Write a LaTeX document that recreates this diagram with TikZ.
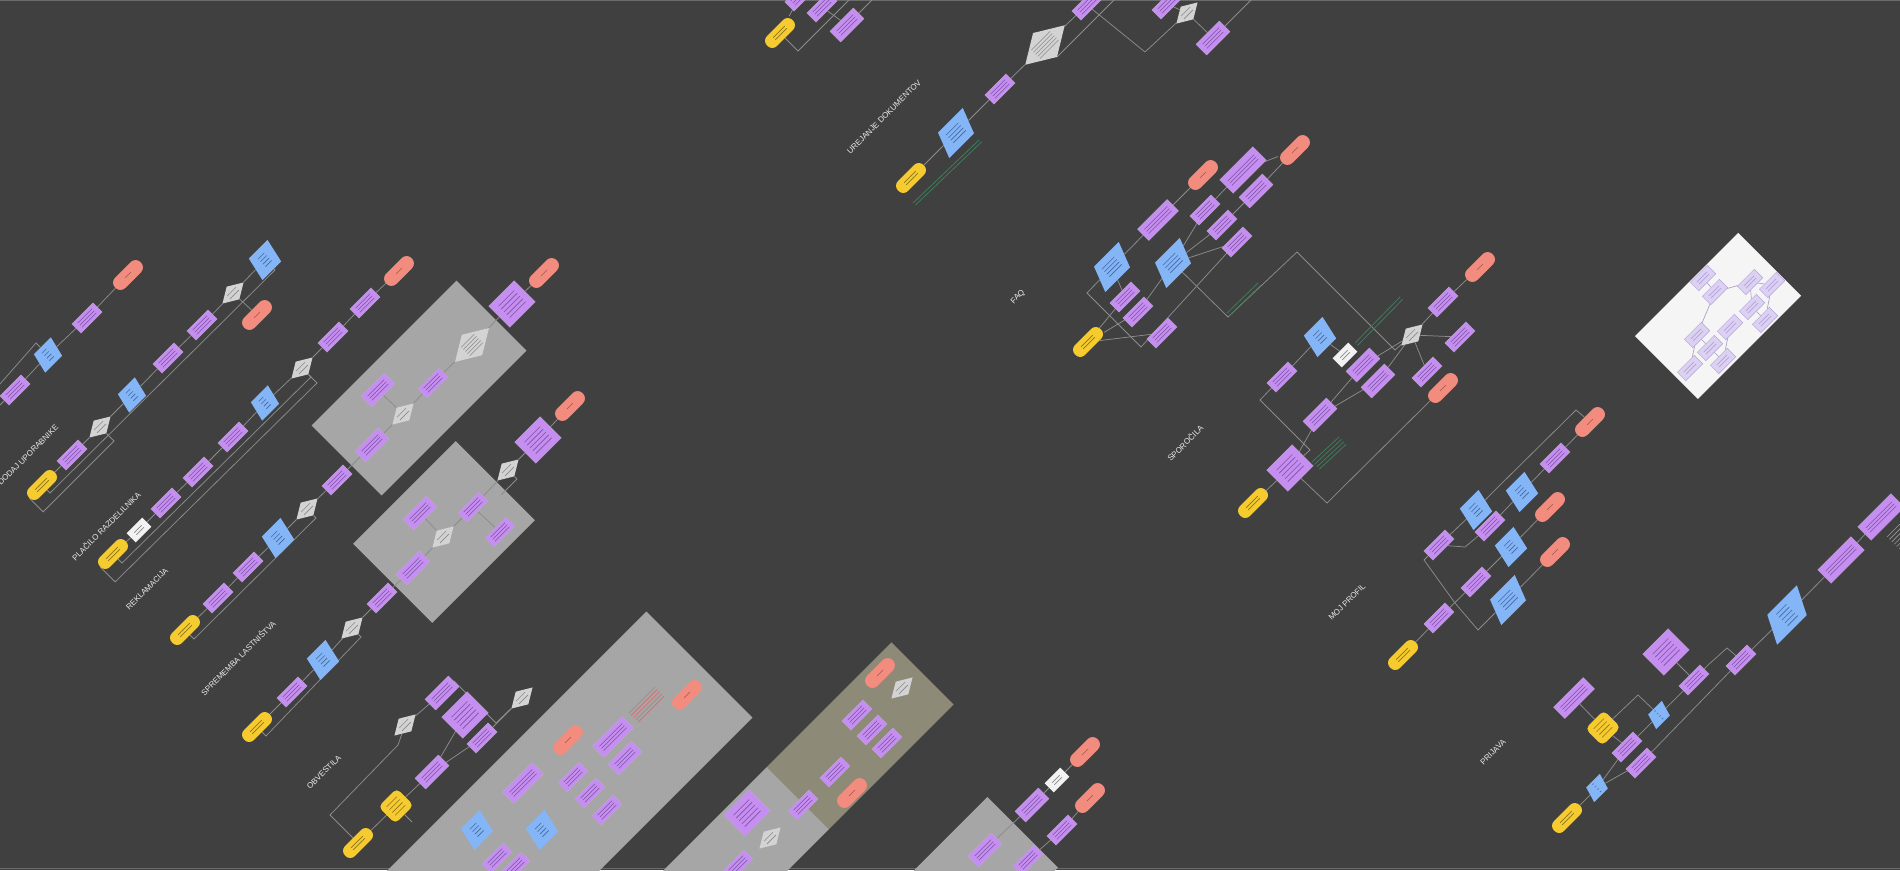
\documentclass[tikz,border=0pt]{standalone}
\usepackage{fontspec}
\setmainfont{Liberation Sans}
\usetikzlibrary{shapes.geometric,calc}
\pgfdeclarelayer{panels}
\pgfdeclarelayer{links}
\pgfsetlayers{panels,links,main}
\definecolor{bg}{HTML}{404040}
\definecolor{pur}{HTML}{C68EF0}
\definecolor{purd}{HTML}{7A52A6}
\definecolor{blu}{HTML}{84B5F6}
\definecolor{blud}{HTML}{44689E}
\definecolor{yel}{HTML}{F6CB2F}
\definecolor{yeld}{HTML}{8E7316}
\definecolor{sal}{HTML}{F18C7E}
\definecolor{sald}{HTML}{A8544A}
\definecolor{dia}{HTML}{D3D3D3}
\definecolor{diad}{HTML}{8A8A8A}
\definecolor{pan}{HTML}{A6A6A6}
\definecolor{bei}{HTML}{8E8A78}
\definecolor{wpan}{HTML}{F5F5F5}
\definecolor{lnc}{HTML}{8C8C8C}
\definecolor{grn}{HTML}{3E7C5A}
\definecolor{lab}{HTML}{EAEAEA}
\definecolor{lpur}{HTML}{DCD1F2}
\definecolor{lpurd}{HTML}{B3A3D9}
\definecolor{annr}{HTML}{D86A6A}
\newcommand\scr[4]{\foreach \o in {#2}{\draw[draw=#4, line width=.6pt, shorten <=#3, shorten >=#3] ($(#1.west)!\o!90:(#1.east)$) -- ($(#1.east)!\o!-90:(#1.west)$);}}
\tikzset{
 shp/.style={rotate=45, inner sep=1pt},
 pu/.style={shp, rectangle, fill=pur, draw=purd!50, line width=0.3pt, minimum width=30pt, minimum height=13pt},
 pum/.style={pu, minimum width=33pt, minimum height=15pt},
 pul/.style={pu, minimum width=42pt, minimum height=16pt},
 pulb/.style={pu, minimum width=47pt, minimum height=19pt},
 pubig/.style={pu, minimum width=36pt, minimum height=30pt},
 bl/.style={shp, trapezium, trapezium left angle=75, trapezium right angle=105, trapezium stretches=true, fill=blu, minimum width=29pt, minimum height=21pt},
 bls/.style={bl, trapezium left angle=72, trapezium right angle=108, minimum width=24pt, minimum height=16pt},
 blm/.style={bl, minimum width=32pt, minimum height=25pt},
 blbig/.style={bl, trapezium left angle=68, trapezium right angle=112, minimum width=45pt, minimum height=26pt},
 blhuge/.style={bl, trapezium left angle=63, trapezium right angle=117, minimum width=56pt, minimum height=28pt},
 ye/.style={shp, rectangle, rounded corners=6.5pt, fill=yel, minimum width=36pt, minimum height=14pt},
 yesq/.style={ye, rounded corners=5pt, minimum width=26pt, minimum height=24pt},
 re/.style={shp, rectangle, rounded corners=7pt, fill=sal, minimum width=36pt, minimum height=14.5pt},
 di/.style={shp, diamond, fill=dia, minimum width=30pt, minimum height=18pt},
 dibig/.style={di, minimum width=48pt, minimum height=29pt},
 dihuge/.style={di, minimum width=56pt, minimum height=34pt},
 wh/.style={shp, rectangle, fill=white!95!black, minimum width=22pt, minimum height=13pt},
 lp/.style={shp, rectangle, fill=lpur, draw=lpurd, line width=0.4pt, minimum width=24pt, minimum height=12pt},
 panel/.style={rotate=45, inner sep=0pt, fill=pan},
 lbl/.style={rotate=45, text=lab, font=\fontsize{8}{9}\selectfont, inner sep=0pt},
 ln/.style={draw=lnc, line width=0.75pt},
 wln/.style={draw=lpurd!70!gray, line width=0.6pt},
 gl/.style={draw=grn, line width=0.8pt},
 frm/.style={draw=gray!70!bg, line width=1pt},
}
\begin{document}
\begin{tikzpicture}[x=1pt,y=-1pt]
\useasboundingbox (0,0) rectangle (1900,870);
\begin{pgfonlayer}{panels}
\fill[bg] (0,0) rectangle (1900,870);
\draw[frm] (0,0.6) -- (1900,0.6);
\draw[frm] (0,868.6) -- (1900,868.6);
\node[panel, minimum width=205pt, minimum height=99pt] (P1) at (419,388) {};
\node[panel, minimum width=145pt, minimum height=112pt] (P2) at (444,532) {};
\node[panel, minimum width=400pt, minimum height=150pt] (BP) at (558,806) {};
\node[panel, fill=bei, minimum width=177pt, minimum height=88pt] (BG) at (860,736) {};
\node[panel, minimum width=200pt, minimum height=88pt] (GG) at (727,869) {};
\node[panel, minimum width=200pt, minimum height=100pt] (PG) at (952,903) {};
\node[panel, fill=wpan, minimum width=146pt, minimum height=89pt] (WP) at (1718,316) {};
\end{pgfonlayer}

% chain A
\node[pu] (A1) at (15,390) {};
\node[bl] (A2) at (48,355) {};
\node[pu] (A3) at (87,318) {};
\node[re] (A4) at (128,275) {};
\coordinate (A0) at (0,384);
\coordinate (Az) at (0,405);
% chain B
\node[ye] (B1) at (42,485) {};
\node[pu] (B2) at (72,455) {};
\node[di] (B3) at (100,427) {};
\node[bl] (B4) at (132,395) {};
\node[pu] (B5) at (168,358) {};
\node[pu] (B6) at (202,325) {};
\node[di] (B7) at (233,293) {};
\node[blm] (B8) at (265,260) {};
\node[re] (B9) at (257,315) {};
% chain C
\node[ye] (C1) at (113,554) {};
\node[wh] (C2) at (139,530) {};
\node[pu] (C3) at (166,503) {};
\node[pu] (C4) at (198,472) {};
\node[pu] (C5) at (233,437) {};
\node[bl] (C6) at (265,403) {};
\node[di] (C7) at (302,368) {};
\node[pu] (C8) at (333,337) {};
\node[pu] (C9) at (365,303) {};
\node[re] (C10) at (399,271) {};
% chain D
\node[ye] (D1) at (185,630) {};
\node[pu] (D2) at (218,598) {};
\node[pu] (D3) at (248,567) {};
\node[blm] (D4) at (278,538) {};
\node[di] (D5) at (307,509) {};
\node[pu] (D6) at (337,480) {};
\node[pum] (P1c) at (372,445) {};
\node[di] (P1b) at (403,414) {};
\node[pum] (P1a) at (378,390) {};
\node[pu] (P1d) at (433,383) {};
\node[dibig] (P1e) at (472,345) {};
\node[pubig] (D7) at (512,304) {};
\node[re] (D8) at (544,273) {};
% chain E
\node[ye] (E1) at (257,727) {};
\node[pu] (E2) at (292,692) {};
\node[blm] (E3) at (323,660) {};
\node[di] (E4) at (352,628) {};
\node[pu] (E5) at (382,598) {};
\node[pum] (P2c) at (413,568) {};
\node[di] (P2b) at (443,537) {};
\node[pum] (P2a) at (420,513) {};
\node[pu] (P2d) at (473,507) {};
\node[pu] (P2e) at (500,532) {};
\node[di] (E6) at (508,470) {};
\node[pubig] (E7) at (538,440) {};
\node[re] (E8) at (570,406) {};
% chain F
\node[ye] (F1) at (358,843) {};
\node[yesq] (F2) at (396,806) {};
\node[pum] (F3) at (432,772) {};
\node[di] (F4) at (405,725) {};
\node[pum] (F5) at (442,693) {};
\node[pubig] (F6) at (465,715) {};
\node[pu] (F7) at (482,738) {};
\node[di] (F8) at (522,698) {};
% big panel
\node[re] (BP1) at (687,695) {};
\node[pul] (BP2) at (613,737) {};
\node[pum] (BP3) at (625,758) {};
\node[re] (BP4) at (568,740) {};
\node[pu] (BP5) at (573,777) {};
\node[pu] (BP6) at (590,793) {};
\node[pu] (BP7) at (607,810) {};
\node[pul] (BP8) at (523,783) {};
\node[blm] (BP9) at (477,830) {};
\node[blm] (BP10) at (542,830) {};
\node[pu] (BP11) at (497,858) {};
\node[pu] (BP12) at (515,867) {};
% beige panel and grey below
\node[re] (BG1) at (880,673) {};
\node[di] (BG2) at (902,688) {};
\node[pu] (BG3) at (857,715) {};
\node[pu] (BG4) at (872,730) {};
\node[pu] (BG5) at (887,743) {};
\node[pu] (BG6) at (835,772) {};
\node[re] (BG7) at (852,793) {};
\node[pu] (BG8) at (803,805) {};
\node[pubig] (GG1) at (747,813) {};
\node[di] (GG2) at (770,838) {};
\node[pu] (GG3) at (738,865) {};
% chain G
\node[re] (G1) at (1085,752) {};
\node[wh] (G2) at (1057,780) {};
\node[pum] (G3) at (1032,805) {};
\node[re] (G4) at (1090,798) {};
\node[pu] (G5) at (1062,830) {};
\node[pum] (PG1) at (985,850) {};
\node[pu] (PG2) at (1028,860) {};
% chain H
\node[ye] (H1) at (780,33) {};
\node[pu] (H2) at (800,-4) {};
\node[pu] (H3) at (822,7) {};
\node[pum] (H4) at (847,25) {};
% chain I
\node[ye] (I1) at (911,178) {};
\node[blbig] (I2) at (956,133) {};
\node[pu] (I3) at (1000,89) {};
\node[dihuge] (I4) at (1045,45) {};
\node[pu] (I5) at (1087,5) {};
\node[pu] (I6) at (1167,4) {};
\node[di] (I7) at (1187,13) {};
\node[pum] (I8) at (1213,38) {};
% chain J
\node[ye] (J1) at (1088,342) {};
\node[pu] (J2) at (1125,297) {};
\node[pu] (J3) at (1138,312) {};
\node[blbig] (J4) at (1112,267) {};
\node[blbig] (J5) at (1173,263) {};
\node[pu] (J6) at (1162,333) {};
\node[pul] (J7) at (1158,220) {};
\node[re] (J8) at (1203,175) {};
\node[pu] (J9) at (1205,210) {};
\node[pu] (J10) at (1222,225) {};
\node[pu] (J11) at (1237,242) {};
\node[pulb] (J12) at (1243,170) {};
\node[pum] (J13) at (1256,191) {};
\node[re] (J14) at (1295,150) {};
% chain K
\node[ye] (K1) at (1253,503) {};
\node[pubig] (K2) at (1290,468) {};
\node[pum] (K3) at (1320,415) {};
\node[pu] (K4) at (1282,377) {};
\node[blm] (K5) at (1320,337) {};
\node[wh] (K6) at (1345,355) {};
\node[pum] (K7) at (1363,365) {};
\node[pum] (K8) at (1378,381) {};
\node[di] (K9) at (1412,335) {};
\node[pu] (K10) at (1443,302) {};
\node[re] (K11) at (1480,267) {};
\node[pu] (K12) at (1460,337) {};
\node[pu] (K13) at (1427,372) {};
\node[re] (K14) at (1443,388) {};
% chain L
\node[ye] (L1) at (1403,655) {};
\node[pu] (L2) at (1439,618) {};
\node[pu] (L3) at (1476,582) {};
\node[blbig] (L4) at (1508,600) {};
\node[re] (L5) at (1555,552) {};
\node[blm] (L6) at (1511,547) {};
\node[re] (L7) at (1550,507) {};
\node[pu] (L8) at (1439,545) {};
\node[blm] (L9) at (1476,510) {};
\node[pu] (L10) at (1490,526) {};
\node[blm] (L11) at (1522,492) {};
\node[pu] (L12) at (1555,458) {};
\node[re] (L13) at (1590,422) {};
% chain M
\node[ye] (M1) at (1567,818) {};
\node[bls] (M2) at (1597,788) {};
\node[pu] (M3) at (1627,747) {};
\node[pu] (M4) at (1641,763) {};
\node[yesq] (M5) at (1603,728) {};
\node[pul] (M6) at (1574,698) {};
\node[bls] (M7) at (1659,715) {};
\node[pu] (M8) at (1694,680) {};
\node[pubig] (M9) at (1666,652) {};
\node[pu] (M10) at (1741,660) {};
\node[blhuge] (M11) at (1787,615) {};
\node[pulb] (M12) at (1841,560) {};
\node[pulb] (M13) at (1881,517) {};
% white panel
\node[lp] (W1) at (1703,278) {};
\node[lp] (W2) at (1715,292) {};
\node[lp] (W3) at (1750,282) {};
\node[lp] (W4) at (1772,285) {};
\node[lp] (W5) at (1752,307) {};
\node[lp] (W6) at (1765,320) {};
\node[lp] (W7) at (1730,327) {};
\node[lp] (W8) at (1697,335) {};
\node[lp] (W9) at (1710,348) {};
\node[lp] (W10) at (1723,361) {};
\node[lp] (W11) at (1690,368) {};

% scribbles inside shapes
\foreach \n in {A1,A3,B2,B5,B6,C3,C4,C5,C8,C9,D2,D3,D6,P1c,P1a,P1d,E2,E5,P2c,P2a,P2d,P2e,F3,F5,F7,BP2,BP3,BP5,BP6,BP7,BP8,BP11,BP12,BG3,BG4,BG5,BG6,BG8,GG3,G3,G5,PG1,PG2,H2,H3,H4,I3,I5,I6,I8,J2,J3,J6,J7,J9,J10,J11,J12,J13,K3,K4,K7,K8,K10,K12,K13,L2,L3,L8,L10,L12,M3,M4,M6,M8,M10,M12,M13}{\scr{\n}{-3pt,0pt,3pt}{5pt}{purd}}
\foreach \n in {D7,E7,F6,GG1,K2,M9}{\scr{\n}{-8pt,-4pt,0pt,4pt,8pt}{7pt}{purd}}
\foreach \n in {A2,B4,B8,C6,D4,E3,BP9,BP10,I2,J4,J5,K5,L4,L6,L9,L11,M2,M7}{\scr{\n}{-5pt,-1.5pt,2pt,5.5pt}{9pt}{blud}}
\scr{M11}{-8pt,-4pt,0pt,4pt,8pt}{14pt}{blud}
\foreach \n in {B1,C1,D1,E1,F1,H1,I1,J1,K1,L1,M1}{\scr{\n}{-1.5pt,1.5pt}{10pt}{yeld}}
\foreach \n in {F2,M5}{\scr{\n}{-6pt,-2pt,2pt,6pt}{6pt}{yeld}}
\foreach \n in {A4,B9,C10,D8,E8,BP1,BP4,BG1,BG7,G1,G4,J8,J14,K11,K14,L5,L7,L13}{\scr{\n}{0pt}{14pt}{sald}}
\foreach \n in {B3,B7,C7,D5,P1b,E4,P2b,E6,F4,F8,BG2,GG2,I7,K9}{\scr{\n}{-2pt,2pt}{9pt}{diad}}
\foreach \n in {P1e,I4}{\scr{\n}{-6pt,-3pt,0pt,3pt,6pt}{15pt}{diad}}
\foreach \n in {C2,G2,K6}{\scr{\n}{-1.5pt,1.5pt}{6pt}{diad}}
\foreach \n in {W1,W2,W3,W4,W5,W6,W7,W8,W9,W10,W11}{\scr{\n}{-1.5pt,1.5pt}{5pt}{lpurd}}

% labels
\node[lbl] (tA) at (28,455) {DODAJ UPORABNIKE};
\node[lbl] (tC) at (106,526) {PLAČILO RAZDELILNIKA};
\node[lbl] (tD) at (147,589) {REKLAMACIJA};
\node[lbl] (tE) at (238,658) {SPREMEMBA LASTNIŠTVA};
\node[lbl] (tF) at (324,772) {OBVESTILA};
\node[lbl] (tI) at (884,117) {UREJANJE DOKUMENTOV};
\node[lbl] (tJ) at (1018,297) {FAQ};
\node[lbl] (tK) at (1185,443) {SPOROČILA};
\node[lbl] (tL) at (1347,602) {MOJ PROFIL};
\node[lbl] (tM) at (1493,752) {PRIJAVA};

\begin{pgfonlayer}{links}
% A
\draw[ln] (Az) -- (A1);
\foreach \a/\b in {A1/A2,A2/A3,A3/A4} \draw[ln] (\a) -- (\b);
\draw[ln] (A0) -- ($(A2)+(-12,-12)$) -- (A2);
% B
\foreach \a/\b in {B1/B2,B2/B3,B3/B4,B4/B5,B5/B6,B6/B7,B7/B8,B7/B9} \draw[ln] (\a) -- (\b);
\draw[ln] (B1) -- ($(B1)+(8,8)$) -- ($(B8)+(10,10)$) -- (B8);
\draw[ln] (B1.west) -- ($(B1.west)+(14,14)$) -- ($(B3)+(14,14)$) -- (B3);
% C
\foreach \a/\b in {C1/C2,C2/C3,C3/C4,C4/C5,C5/C6,C6/C7,C7/C8,C8/C9,C9/C10} \draw[ln] (\a) -- (\b);
\draw[ln] (C1) -- ($(C1)+(9,9)$) -- ($(C7)+(9,9)$) -- (C7);
\draw[ln] (C1.west) -- ($(C1.west)+(15,15)$) -- ($(C7)+(15,15)$) -- (C7);
% D
\foreach \a/\b in {D1/D2,D2/D3,D3/D4,D4/D5,D5/D6,D6/P1c,P1c/P1b,P1b/P1d,P1d/P1e,P1e/D7,D7/D8,P1b/P1a} \draw[ln] (\a) -- (\b);
\draw[ln] (D1) -- ($(D1)+(9,9)$) -- ($(D5)+(9,9)$) -- (D5);
% E
\foreach \a/\b in {E1/E2,E2/E3,E3/E4,E4/E5,E5/P2c,P2c/P2b,P2b/P2d,P2d/E6,E6/E7,E7/E8,P2b/P2a,P2d/P2e} \draw[ln] (\a) -- (\b);
\draw[ln] (E1) -- ($(E1)+(9,9)$) -- ($(E4)+(9,9)$) -- (E4);
\draw[ln] (E6) -- ($(E6)+(9,9)$) -- ($(E6)+(-7,25)$);
% F
\foreach \a/\b in {F1/F2,F2/F3,F3/F7,F7/F8,F4/F5,F3/F6} \draw[ln] (\a) -- (\b);
\draw[ln] (F1) -- ($(F1)+(-28,-28)$) -- ++(68,-70) -- (F4);
\draw[ln] (F5) -- ($(F5)+(12,-12)$) -- ++(42,42) -- (F8);
\draw[ln] (F2) -- ($(F2)+(16,16)$);
% G
\foreach \a/\b in {G3/G2,G2/G1,G5/G4,G5/PG2,G3/PG1} \draw[ln] (\a) -- (\b);
% H
\foreach \a/\b in {H1/H2,H3/H4} \draw[ln] (\a) -- (\b);
\draw[ln] (H1) -- ($(H1)+(18,18)$) -- ++(75,-75);
\draw[ln] (H4) -- ++(30,-30);
% I
\foreach \a/\b in {I1/I2,I2/I3,I3/I4,I4/I5,I6/I7,I7/I8} \draw[ln] (\a) -- (\b);
\draw[ln] (I4) -- ($(I4)+(12,12)$) -- ++(62,-62);
\draw[ln] (I5) -- ($(I5)+(58,47)$) -- (I7);
\draw[ln] (I8) -- ++(40,-40);
\draw[gl] ($(I1)+(2,25)$) -- ++(66,-63);
\draw[gl] ($(I1)+(4.5,27)$) -- ++(66,-63);
% J
\foreach \a/\b in {J1/J2,J1/J3,J2/J4,J3/J5,J4/J7,J7/J8,J5/J9,J5/J10,J5/J11,J9/J12,J10/J13,J12/J14,J13/J14,J1/J6} \draw[ln] (\a) -- (\b);
\draw[ln] (J4) -- ($(J4)+(-25,26)$) -- ++(54,54) -- (J11);
\draw[ln] (J5) -- ($(J5)+(55,54)$) -- ++(69,-65) -- ++(98,98) -- (K9);
\draw[gl] ($(J5)+(54,50)$) -- ++(31,-30);
\draw[gl] ($(J5)+(56.5,52.5)$) -- ++(31,-30);
% K
\foreach \a/\b in {K1/K2,K2/K3,K3/K7,K3/K8,K7/K9,K8/K9,K9/K10,K10/K11,K9/K12,K4/K5,K5/K6,K9/K13} \draw[ln] (\a) -- (\b);
\draw[ln] (K2) -- ($(K2)+(20,-18)$) -- ++(-50,-50) -- (K4);
\draw[ln] (K2) -- ($(K2)+(37,35)$) -- (K14);
\foreach \k in {0,1,2,3} \draw[gl] ($(K2)+(22+\k*2.4,-6+\k*2.4)$) -- ++(27,-25);
\draw[gl] ($(K9)+(-57,8)$) -- ++(45,-46);
\draw[gl] ($(K9)+(-54.5,10.5)$) -- ++(45,-46);
% L
\foreach \a/\b in {L1/L2,L2/L3,L3/L6,L6/L7,L4/L5,L8/L9,L10/L11,L11/L12,L12/L13} \draw[ln] (\a) -- (\b);
\draw[ln] (L8) -- ($(L8)+(-15,15)$) -- ($(L3)+(-21,21)$) -- ($(L4)+(-30,30)$) -- (L4);
\draw[ln] (L8) -- ($(L8)+(26,2)$) -- (L10);
\draw[ln] (L9) -- ($(L9)+(14,-15)$) -- ($(L13)+(-14,-12)$) -- (L13);
% M
\foreach \a/\b in {M1/M2,M2/M3,M2/M4,M3/M7,M7/M8,M8/M9,M5/M6,M3/M5,M4/M10,M10/M11,M11/M12,M12/M13} \draw[ln] (\a) -- (\b);
\draw[ln] (M5) -- ($(M5)+(35,-33)$) -- (M7);
\draw[ln] (M8) -- ($(M8)+(14,-15)$) -- ($(M10)+(-14,-12)$) -- (M10);
\foreach \k in {0,...,5} \draw[draw=gray!80, line width=0.6pt] ($(M13)+(6+\k*2.4,20+\k*2.4)$) -- ++(16,-16);
% big panel annotation
\foreach \k in {0,...,4} \draw[draw=annr, line width=0.6pt] ($(BP1)+(-58+\k*2.3,18+\k*2.3)$) -- ++(26,-26);
% white panel
\foreach \a/\b in {W1/W2,W2/W3,W3/W5,W4/W6,W5/W6,W2/W8,W8/W9,W9/W10,W7/W10,W8/W11,W3/W4} \draw[wln] (\a) -- (\b);
\end{pgfonlayer}
\end{tikzpicture}
\end{document}
